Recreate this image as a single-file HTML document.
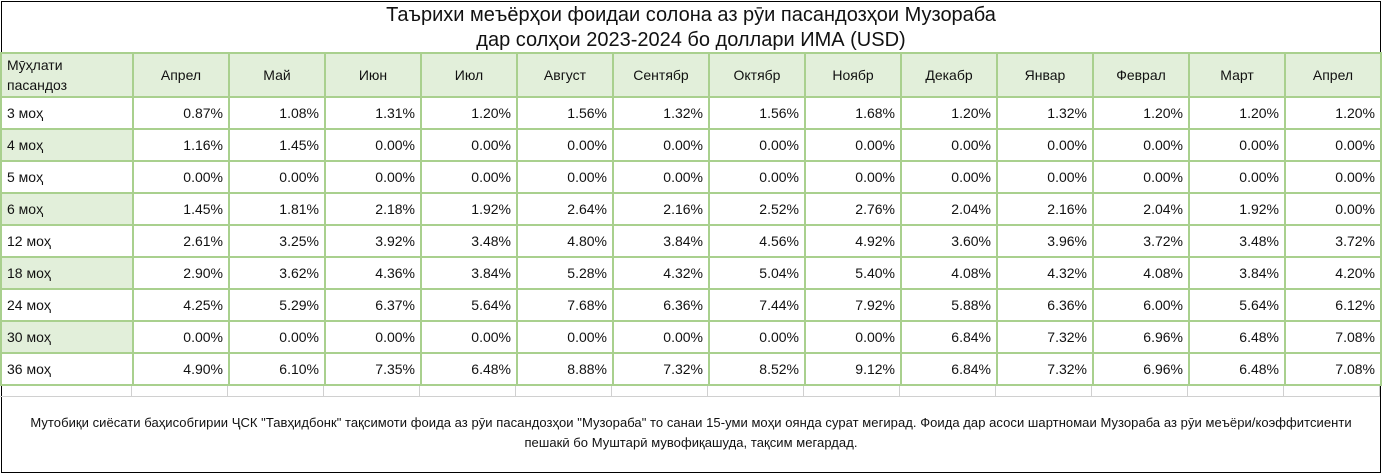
<!DOCTYPE html>
<html><head><meta charset="utf-8">
<style>
body{margin:0;width:1382px;height:474px;overflow:hidden;background:#fff;font-family:"Liberation Sans","DejaVu Sans",sans-serif;color:#111;}
#outer{position:absolute;left:1px;top:1px;width:1378px;height:470px;border:1px solid #000;}
.t{position:absolute;left:0;width:1382px;text-align:center;font-size:20px;}
.c{position:absolute;box-sizing:border-box;font-size:14px;display:flex;align-items:center;padding:0 5px;}
#foot{position:absolute;left:2px;top:413px;width:1378px;text-align:center;font-size:13px;line-height:20px;letter-spacing:0.05px;}
</style></head><body>
<div id="outer"></div>
<div class="t" style="top:4px">Таърихи меъёрҳои фоидаи солона аз рӯи пасандозҳои Музораба</div>
<div class="t" style="top:29px">дар солҳои 2023-2024 бо доллари ИМА (USD)</div>
<div id="tbl"></div>
<div id="foot">Мутобиқи сиёсати баҳисобгирии ҶСК "Тавҳидбонк" тақсимоти фоида аз рӯи пасандозҳои "Музораба" то санаи 15-уми моҳи оянда сурат мегирад. Фоида дар асоси шартномаи Музораба аз рӯи меъёри/коэффитсиенти<br>пешакӣ бо Муштарӣ мувофиқашуда, тақсим мегардад.</div>
<script>
const months=["Апрел","Май","Июн","Июл","Август","Сентябр","Октябр","Ноябр","Декабр","Январ","Феврал","Март","Апрел"];
const terms=["3 моҳ","4 моҳ","5 моҳ","6 моҳ","12 моҳ","18 моҳ","24 моҳ","30 моҳ","36 моҳ"];
const r3=[0.87,1.08,1.31,1.20,1.56,1.32,1.56,1.68,1.20,1.32,1.20,1.20,1.20];
const r4=[1.16,1.45,0,0,0,0,0,0,0,0,0,0,0];
const r5=[0,0,0,0,0,0,0,0,0,0,0,0,0];
const r6=[1.45,1.81,2.18,1.92,2.64,2.16,2.52,2.76,2.04,2.16,2.04,1.92,0];
const r12=[2.61,3.25,3.92,3.48,4.80,3.84,4.56,4.92,3.60,3.96,3.72,3.48,3.72];
const r18=[2.90,3.62,4.36,3.84,5.28,4.32,5.04,5.40,4.08,4.32,4.08,3.84,4.20];
const r24=[4.25,5.29,6.37,5.64,7.68,6.36,7.44,7.92,5.88,6.36,6.00,5.64,6.12];
const r30=[0,0,0,0,0,0,0,0,6.84,7.32,6.96,6.48,7.08];
const r36=[4.90,6.10,7.35,6.48,8.88,7.32,8.52,9.12,6.84,7.32,6.96,6.48,7.08];
const rows=[r3,r4,r5,r6,r12,r18,r24,r30,r36];
const tbl=document.getElementById('tbl');
const G='#a9d08e',BG='#e2efda';
function cell(x,y,w,h,txt,bg,align,name,bc){
 const d=document.createElement('div');d.className='c';
 d.style.cssText+=`left:${x}px;top:${y}px;width:${w+2}px;height:${h+2}px;border:2px solid ${bc||G};background:${bg};justify-content:${align};`;
 d.textContent=txt;
 
 
 tbl.appendChild(d);
}
const colX=i=>i==0?0:132+(i-1)*96, colW=i=>i==0?132:96;
cell(0,52,132,44,'','#e2efda','flex-start','header-term');
const h=tbl.lastChild;h.innerHTML='Мӯҳлати<br>пасандоз';h.style.lineHeight='20px';
months.forEach((m,i)=>cell(colX(i+1),52,96,44,m,BG,'center','header-month'));
rows.forEach((r,ri)=>{
 const y=96+ri*32;
 cell(0,y,132,32,terms[ri],ri%2?BG:'#fff','flex-start','term-label');
 r.forEach((v,i)=>cell(colX(i+1),y,96,32,v.toFixed(2)+'%','#fff','flex-end','rate-cell'));
});
for(let i=0;i<14;i++){
 const d=document.createElement('div');
 d.style.cssText=`position:absolute;left:${colX(i)}px;top:386px;width:${colW(i)}px;height:11px;border-right:1px solid #d0d0d0;border-bottom:1px solid #d0d0d0;box-sizing:border-box;`;
 
 
 tbl.appendChild(d);
}
</script>
</body></html>
